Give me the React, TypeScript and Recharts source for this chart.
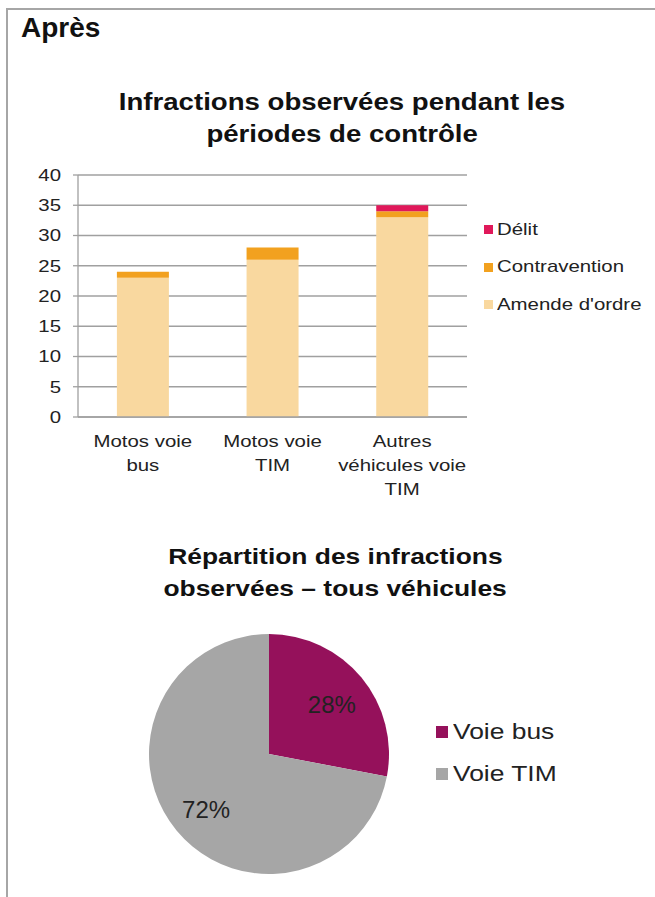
import React from "react";
import {
  BarChart,
  Bar,
  XAxis,
  YAxis,
  CartesianGrid,
  PieChart,
  Pie,
  Cell,
} from "recharts";

const categories = ["Motos voie bus", "Motos voie TIM", "Autres véhicules voie TIM"];
const tickLines: Record<string, string[]> = {
  "Motos voie bus": ["Motos voie", "bus"],
  "Motos voie TIM": ["Motos voie", "TIM"],
  "Autres véhicules voie TIM": ["Autres", "véhicules voie", "TIM"],
};
const amende = [23, 26, 33];
const contravention = [1, 2, 1];
const delit = [0, 0, 1];
const yTicks = [0, 5, 10, 15, 20, 25, 30, 35, 40];
const boundaryTicks = [0, 1, 2, 3];

const pieNames = ["Voie bus", "Voie TIM"];
const pieValues = [28, 72];

const C_AMENDE = "#f9d89f";
const C_CONTRA = "#f2a11f";
const C_DELIT = "#e0185a";
const PIE_COLORS = ["#95115b", "#a6a6a6"];
const AXIS = "#a0a0a0";
const FONT = "'Liberation Sans', Arial, sans-serif";
const SX = 1.2; // le rendu d'origine est étiré en largeur

const barData = categories.map((c, i) => ({
  name: c,
  amende: amende[i],
  contravention: contravention[i],
  delit: delit[i],
}));

const pieData = pieNames.map((n, i) => ({ name: n, value: pieValues[i] }));

const XTick = (props: any) => {
  const { x, y, payload } = props;
  const lines = tickLines[payload.value] || [payload.value];
  return (
    <g transform={`translate(${x},${y}) scale(${SX},1)`}>
      <text x={0} y={8} textAnchor="middle" fill="#222" fontSize={17} fontFamily={FONT}>
        {lines.map((l, i) => (
          <tspan key={i} x={0} dy={i === 0 ? 14 : 24}>
            {l}
          </tspan>
        ))}
      </text>
    </g>
  );
};

const EmptyTick = () => <g />;

const YTick = (props: any) => {
  const { x, y, payload } = props;
  return (
    <g transform={`translate(${x - 10},${y}) scale(${SX},1)`}>
      <text x={0} y={0} textAnchor="end" dominantBaseline="central" fill="#222" fontSize={17} fontFamily={FONT}>
        {payload.value}
      </text>
    </g>
  );
};

const RAD = Math.PI / 180;
const PieLabel = (props: any) => {
  const { cx, cy, midAngle, outerRadius, value } = props;
  const r = outerRadius * 0.68;
  const x = cx + r * Math.cos(-midAngle * RAD);
  const y = cy + r * Math.sin(-midAngle * RAD);
  return (
    <text x={x} y={y + 3} textAnchor="middle" dominantBaseline="central" fill="#222" fontSize={24} fontFamily={FONT}>
      {value}%
    </text>
  );
};

const legendBar = [
  { label: "Délit", color: C_DELIT },
  { label: "Contravention", color: C_CONTRA },
  { label: "Amende d'ordre", color: C_AMENDE },
];

const Stretch = ({ children, origin = "left" }: { children: React.ReactNode; origin?: string }) => (
  <span style={{ display: "inline-block", transform: `scaleX(${SX})`, transformOrigin: origin, whiteSpace: "nowrap" }}>
    {children}
  </span>
);

export default function App() {
  const title = {
    position: "absolute" as const,
    width: 600,
    textAlign: "center" as const,
    fontWeight: "bold" as const,
    lineHeight: "32px",
  };
  return (
    <div
      style={{
        position: "absolute",
        left: 0,
        top: 0,
        width: 655,
        height: 897,
        background: "#fff",
        fontFamily: FONT,
        color: "#111",
        overflow: "hidden",
      }}
    >
      <div
        style={{
          position: "absolute",
          left: 6,
          top: 8,
          right: 0,
          bottom: 0,
          borderTop: "2px solid #a6a6a6",
          borderLeft: "2px solid #a6a6a6",
        }}
      />
      <div style={{ position: "absolute", left: 21, top: 12, fontSize: 28, fontWeight: "bold" }}>Après</div>

      <div style={{ ...title, left: 42, top: 86, fontSize: 23 }}>
        <Stretch origin="center">Infractions observées pendant les</Stretch>
        <br />
        <Stretch origin="center">périodes de contrôle</Stretch>
      </div>

      <div style={{ position: "absolute", left: 0, top: 160 }}>
        <BarChart
          width={480}
          height={340}
          data={barData}
          margin={{ top: 15, right: 13, bottom: 0, left: 0 }}
          barCategoryGap="30%"
        >
          <CartesianGrid xAxisId="cat" vertical={false} stroke={AXIS} strokeWidth={1.3} />
          {/* petits traits aux limites des catégories */}
          <XAxis
            xAxisId="bounds"
            type="number"
            domain={[0, 3]}
            ticks={boundaryTicks}
            interval={0}
            height={0}
            tick={<EmptyTick />}
            tickSize={5}
            tickLine={{ stroke: AXIS, strokeWidth: 1.3 }}
            axisLine={false}
          />
          <XAxis
            xAxisId="cat"
            dataKey="name"
            height={83}
            interval={0}
            tick={<XTick />}
            tickLine={false}
            axisLine={{ stroke: AXIS, strokeWidth: 1.3 }}
          />
          <YAxis
            width={78}
            domain={[0, 40]}
            ticks={yTicks}
            interval={0}
            tickLine={{ stroke: AXIS, strokeWidth: 1.3 }}
            tickSize={5}
            axisLine={{ stroke: AXIS, strokeWidth: 1.3 }}
            tick={<YTick />}
          />
          <Bar xAxisId="cat" dataKey="amende" stackId="a" fill={C_AMENDE} isAnimationActive={false} />
          <Bar xAxisId="cat" dataKey="contravention" stackId="a" fill={C_CONTRA} isAnimationActive={false} />
          <Bar xAxisId="cat" dataKey="delit" stackId="a" fill={C_DELIT} isAnimationActive={false} />
        </BarChart>
      </div>

      <div style={{ position: "absolute", left: 484, top: 211, fontSize: 17, color: "#222" }}>
        {legendBar.map((l) => (
          <div key={l.label} style={{ display: "flex", alignItems: "center", height: 37.5 }}>
            <span style={{ width: 9, height: 9, background: l.color, marginRight: 4 }} />
            <Stretch>{l.label}</Stretch>
          </div>
        ))}
      </div>

      <div style={{ ...title, left: 35, top: 541, fontSize: 22 }}>
        <Stretch origin="center">Répartition des infractions</Stretch>
        <br />
        <Stretch origin="center">observées – tous véhicules</Stretch>
      </div>

      <div style={{ position: "absolute", left: 0, top: 620 }}>
        <PieChart width={420} height={270} margin={{ top: 0, right: 0, bottom: 0, left: 0 }}>
          <Pie
            data={pieData}
            dataKey="value"
            nameKey="name"
            cx={269}
            cy={134}
            outerRadius={120}
            startAngle={90}
            endAngle={-270}
            stroke="none"
            label={PieLabel}
            labelLine={false}
            isAnimationActive={false}
          >
            {pieData.map((d, i) => (
              <Cell key={d.name} fill={PIE_COLORS[i]} />
            ))}
          </Pie>
        </PieChart>
      </div>

      <div style={{ position: "absolute", left: 436, top: 711, fontSize: 22, color: "#222" }}>
        {pieData.map((d, i) => (
          <div key={d.name} style={{ display: "flex", alignItems: "center", height: 42 }}>
            <span style={{ width: 12, height: 12, background: PIE_COLORS[i], marginRight: 5 }} />
            <Stretch>{d.name}</Stretch>
          </div>
        ))}
      </div>
    </div>
  );
}
